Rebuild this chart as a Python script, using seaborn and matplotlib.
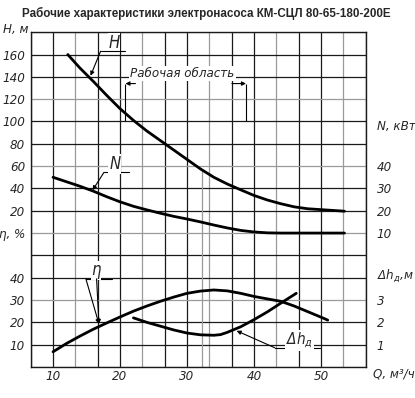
import numpy as np
import matplotlib
matplotlib.use("Agg")
import matplotlib.pyplot as plt
import seaborn as sns

# --- data (Q in m3/h) ---
q_head = [12.2, 14, 16, 18, 20, 22, 24, 26, 28, 30, 32, 34, 36, 38, 40, 42, 44, 46, 48, 50, 52, 53.5]
head = [160, 148, 136, 123.5, 111.5, 101, 91.5, 83, 74.5, 66, 57.5, 50, 44, 38.8, 33.7, 29.6, 26.3, 23.5, 21.8, 21, 20.2, 19.6]

q_power = [10, 12, 14, 16, 18, 20, 22, 24, 26, 28, 30, 32, 34, 36, 38, 40, 42, 44, 48, 53.5]
power = [35, 33, 31, 28.8, 26.3, 24, 22, 20.4, 18.9, 17.5, 16.3, 15, 13.6, 12.3, 11.2, 10.5, 10.1, 10, 10, 10]

q_eff = [10, 12, 14, 16, 18, 20, 22, 24, 26, 28, 30, 32, 34, 36, 38, 40, 42, 44, 46, 48, 50, 51]
eff = [6.8, 10.5, 13.8, 16.9, 19.7, 22.4, 25.0, 27.3, 29.4, 31.3, 33.0, 34.0, 34.5, 34.1, 33.0, 31.6, 30.5, 29.4, 27.3, 24.8, 22.3, 21.0]

q_npsh = [22, 24, 26, 28, 30, 32, 34, 35, 36, 38, 40, 42, 44, 46.3]
npsh = [2.2, 2.0, 1.83, 1.66, 1.52, 1.44, 1.42, 1.45, 1.55, 1.8, 2.12, 2.47, 2.86, 3.3]

work_range = [20.8, 38.8]
q_bep = 32.3

q_ticks = [10, 20, 30, 40, 50]
head_ticks = [160, 140, 120, 100, 80, 60, 40, 20]
eff_ticks = [40, 30, 20, 10]
power_ticks = [40, 30, 20, 10]
npsh_ticks = [3, 2, 1]

title = "Рабочие характеристики электронасоса КМ-СЦЛ 80-65-180-200Е"

# --- style ---
sns.set_style("white")
plt.rcParams["font.family"] = ["DejaVu Sans"]
plt.rcParams["font.stretch"] = "condensed"
plt.rcParams["font.style"] = "italic"
plt.rcParams["mathtext.fontset"] = "custom"
plt.rcParams["mathtext.it"] = "DejaVu Sans:italic"
plt.rcParams["mathtext.rm"] = "DejaVu Sans:italic"

DARK = "#1a1a1a"
LIGHT = "#9a9a9a"
TICK_FS = 9.5

fig = plt.figure(figsize=(4.15, 3.98), dpi=100)
ax = fig.add_axes([0.074, 0.078, 0.8072, 0.841])
ax.set_xlim(20 / 3, 170 / 3)
ax.set_ylim(-120, 180)

# grid: every third line drawn lighter
for i, q in enumerate(np.linspace(20 / 3, 170 / 3, 16)):
    c = LIGHT if i % 3 == 2 else DARK
    ax.axvline(q, color=c, lw=0.9, zorder=1)
for h in np.arange(-120, 181, 20):
    c = LIGHT if h % 60 == 0 else DARK
    ax.axhline(h, color=c, lw=0.9, zorder=1)
ax.plot([q_bep, q_bep], [-120, np.interp(q_bep, q_head, head)], color=LIGHT, lw=0.9, zorder=1)

for s in ax.spines.values():
    s.set_color(DARK)
    s.set_linewidth(1)

# twin axes for the other quantities, all sharing one grid
ax_eff = ax.twinx()
ax_eff.set_ylim(0, 150)
ax_pow = ax.twinx()
ax_pow.set_ylim(-50, 100)
ax_npsh = ax.twinx()
ax_npsh.set_ylim(0, 15)
for a in (ax_eff, ax_pow, ax_npsh):
    for s in a.spines.values():
        s.set_visible(False)

sns.lineplot(x=q_head, y=head, ax=ax, color="k", lw=2, zorder=3)
sns.lineplot(x=q_power, y=power, ax=ax_pow, color="k", lw=2)
sns.lineplot(x=q_eff, y=eff, ax=ax_eff, color="k", lw=2)
sns.lineplot(x=q_npsh, y=npsh, ax=ax_npsh, color="k", lw=2)

# ticks
ax.set_xticks(q_ticks)
ax.set_xticklabels([str(t) for t in q_ticks])
ax.set_yticks(head_ticks)
ax.set_yticklabels([str(t) for t in head_ticks])
ax.tick_params(axis="both", length=0, labelsize=TICK_FS)
ax.tick_params(axis="x", pad=2)
ax.tick_params(axis="y", pad=4)

ax_eff.yaxis.set_ticks_position("left")
ax_eff.set_yticks(eff_ticks + [60])
ax_eff.set_yticklabels([str(t) for t in eff_ticks] + ["η, %"])
ax_eff.tick_params(axis="y", length=0, labelsize=TICK_FS, pad=4)

ax_pow.set_yticks(power_ticks + [58.3])
ax_pow.set_yticklabels([str(t) for t in power_ticks] + ["N, кВт"])
ax_pow.tick_params(axis="y", length=0, labelsize=TICK_FS, pad=8)

ax_npsh.set_yticks(npsh_ticks + [4.2])
ax_npsh.set_yticklabels([str(t) for t in npsh_ticks] + [r"$Δh_{д}$,м"])
ax_npsh.tick_params(axis="y", length=0, labelsize=TICK_FS, pad=8)

for a in (ax, ax_eff, ax_pow, ax_npsh):
    a.set_xlabel("")
    a.set_ylabel("")

fig.text(0.008, 0.925, "H, м", fontsize=TICK_FS, ha="left", va="center")
fig.text(0.899, 0.06, "Q, м³/ч", fontsize=TICK_FS, ha="left", va="center")
fig.text(0.497, 0.965, title, fontsize=8.4, fontweight="bold", style="normal",
         stretch="normal", family="Liberation Sans", ha="center", va="center")

arrow = dict(arrowstyle="-|>", lw=0.8, color="k", mutation_scale=6, shrinkA=0, shrinkB=0)
box = dict(facecolor="white", edgecolor="none", pad=0.5)

# H label
ax.text(19.1, 170.4, "H", fontsize=12, ha="center", va="center", bbox=box, zorder=4)
ax.plot([17.1, 20.8], [163, 163], color="k", lw=0.8, zorder=4)
ax.annotate("", xy=(15.6, 141), xytext=(17.1, 163), arrowprops=arrow, zorder=4)

# working range
ax.vlines(work_range, 100, 134, color="k", lw=0.8, zorder=4)
ax.annotate("", xy=(work_range[0], 134), xytext=(22.3, 134), arrowprops=arrow, zorder=4)
ax.annotate("", xy=(work_range[1], 134), xytext=(36.7, 134), arrowprops=arrow, zorder=4)
ax.text(29.3, 143, "Рабочая область", fontsize=9.5, ha="center", va="center",
        bbox=dict(facecolor="white", edgecolor="none", pad=1), zorder=4)

# N label
ax_pow.text(19.2, 40.9, "N", fontsize=12, ha="center", va="center", bbox=box, zorder=4)
ax_pow.plot([17.6, 21.3], [37.2, 37.2], color="k", lw=0.8)
ax_pow.annotate("", xy=(15.9, 29.2), xytext=(17.6, 37.2), arrowprops=arrow)

# efficiency label
ax_eff.text(16.4, 43.3, "η", fontsize=12, ha="center", va="center", bbox=box)
ax_eff.plot([14.9, 18.8], [39.5, 39.5], color="k", lw=0.8)
ax_eff.annotate("", xy=(16.85, 19.3), xytext=(14.9, 39.5), arrowprops=arrow)
ax_eff.annotate("", xy=(16.85, 19.3), xytext=(16.5, 39.5), arrowprops=arrow)

# NPSH label
ax_npsh.text(46.8, 1.19, r"$Δh_{д}$", fontsize=11, ha="center", va="center", bbox=box)
ax_npsh.plot([43.1, 49.8], [0.86, 0.86], color="k", lw=0.8)
ax_npsh.annotate("", xy=(37.4, 1.62), xytext=(43.1, 0.86), arrowprops=arrow)

fig.savefig("out.png", dpi=100)
